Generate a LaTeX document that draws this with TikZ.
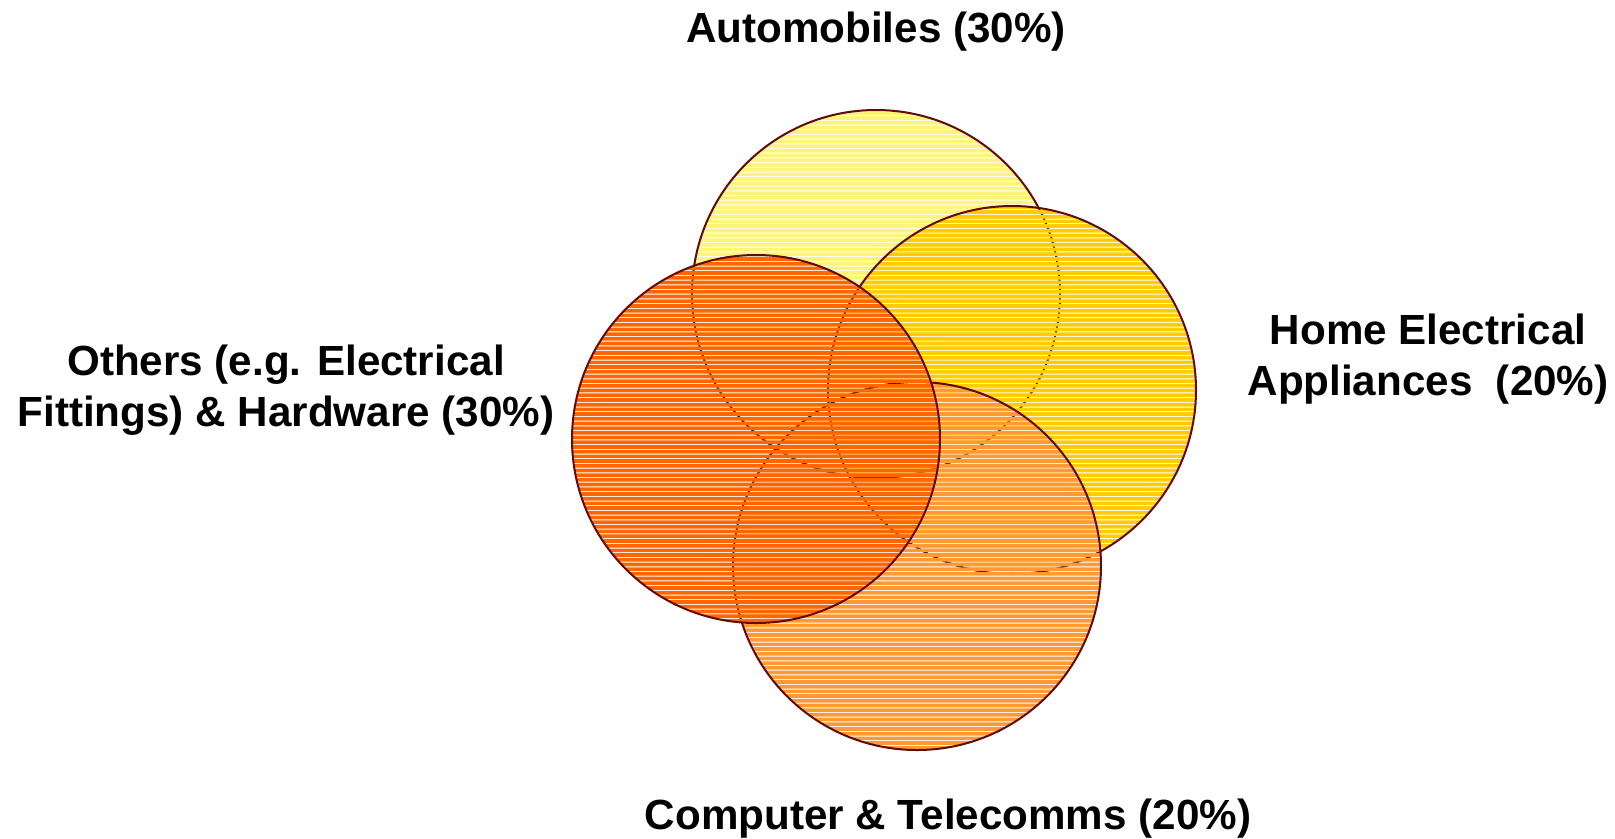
\documentclass[tikz,border=0pt]{standalone}
\usepackage{fontspec}
\setmainfont{Liberation Sans}
\usetikzlibrary{calc}
\definecolor{autoyellow}{RGB}{255,244,122}
\definecolor{homegold}{RGB}{255,204,0}
\definecolor{comporange}{RGB}{255,153,51}
\definecolor{otherorange}{RGB}{255,102,0}
\definecolor{rimred}{RGB}{96,10,10}
\tikzset{
	Venn-Rim/.style={draw=rimred,line width=0.2mm},
	Venn-Label/.style={font=\fontsize{12}{14.5}\selectfont\bfseries,align=center,inner sep=0pt}
}
% striped disc: centre, colour
\newcommand{\stripedset}[2]{%
	\begin{scope}
		\clip (#1) circle (1.84cm);
		\fill [#2] \foreach \k in {0,...,142} {(0,{102+4.7*\k}) rectangle ++(1615,3.7)};
	\end{scope}
	\draw [Venn-Rim] (#1) circle (1.84cm);
}

\begin{document}
\begin{tikzpicture}[x=0.1mm,y=-0.1mm]
	\useasboundingbox (0,0) rectangle (1615,838);
	\coordinate (c_auto) at (876,294);
	\coordinate (c_home) at (1012,390);
	\coordinate (c_comp) at (917,566);
	\coordinate (c_other) at (756,439);
	% lowest set first
	\stripedset{c_auto}{autoyellow}
	\stripedset{c_home}{homegold}
	\stripedset{c_comp}{comporange}
	\stripedset{c_other}{otherorange}
	\node [Venn-Label,anchor=base] (lbl_auto) at (876,42) {Automobiles (30\%)};
	\node [Venn-Label] (lbl_home) at (1428,359) {Home Electrical\\Appliances\ \ (20\%)};
	\node [Venn-Label] (lbl_other) at (286,390) {Others (e.g. Electrical\\Fittings) \& Hardware (30\%)};
	\node [Venn-Label,anchor=base] (lbl_comp) at (948,829) {Computer \& Telecomms (20\%)};
\end{tikzpicture}
\end{document}
